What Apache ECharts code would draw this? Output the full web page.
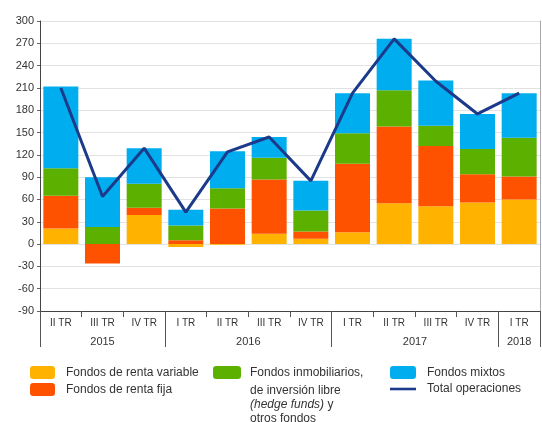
<!DOCTYPE html>
<html>
<head>
<meta charset="utf-8">
<script src="https://cdn.jsdelivr.net/npm/echarts@6/dist/echarts.min.js"></script>
<style>
html,body{margin:0;padding:0;background:#fff;}
#c{width:542px;height:422px;}
</style>
</head>
<body>
<div id="c"></div>
<script>
const categories = ['II TR','III TR','IV TR','I TR','II TR','III TR','IV TR','I TR','II TR','III TR','IV TR','I TR'];
const years = [{label:'2015', start:0, count:3},{label:'2016', start:3, count:4},{label:'2017', start:7, count:4},{label:'2018', start:11, count:1}];
const rentaVariable = [21, 0, 39, -4, -1, 14, 7, 16, 55, 51, 56, 60];
const rentaFija = [44, -26, 10, 5, 48, 73, 10, 92, 103, 81, 38, 31];
const inmobiliarios = [37, 23, 32, 20, 27, 29, 28, 41, 49, 27, 34, 52];
const mixtos = [110, 67, 48, 21, 50, 28, 40, 54, 69, 61, 47, 60];
const totalOperaciones = [210, 64, 129, 43, 124, 144, 85, 203, 276, 219, 175, 203];
const yTicks = {min:-90, max:300, interval:30};

const FONT = 'Liberation Sans, Arial, sans-serif';
const C_Y = '#FFB300', C_R = '#FF5200', C_G = '#5CB000', C_B = '#00ADEF', C_L = '#1C3A8A';

// second (year) axis: half-category positions
const n = categories.length;
const halfData = [];
for (let i = 0; i <= 2*n; i++) halfData.push('');
const yearTickIdx = new Set([2*n]);
years.forEach(y => {
  yearTickIdx.add(2*y.start);
  halfData[y.start*2 + y.count] = y.label;
});

const NAME_G = 'Fondos inmobiliarios,';
const chart = echarts.init(document.getElementById('c'));
chart.setOption({
  animation:false,
  textStyle:{fontFamily:FONT},
  grid:{left:40, right:2, top:21, bottom:111},
  xAxis:[{
    type:'category', data:categories,
    axisLine:{onZero:false, lineStyle:{color:'#444', width:1}},
    axisTick:{show:true, interval:0, length:6, lineStyle:{color:'#555'}},
    axisLabel:{color:'#333', fontSize:10, margin:7, interval:0, fontFamily:FONT}
  },{
    type:'category', data:halfData, boundaryGap:false, position:'bottom',
    axisLine:{show:false, onZero:false},
    axisTick:{show:true, length:36, interval:(i)=>yearTickIdx.has(i), lineStyle:{color:'#555'}},
    axisLabel:{color:'#333', fontSize:11, margin:25, interval:(i,v)=>v!=='', fontFamily:FONT},
    splitLine:{show:false}
  }],
  yAxis:[{
    type:'value', min:yTicks.min, max:yTicks.max, interval:yTicks.interval,
    axisLine:{show:true, lineStyle:{color:'#444'}},
    axisTick:{show:true, length:3, lineStyle:{color:'#666'}},
    axisLabel:{color:'#333', fontSize:11, margin:6, fontFamily:FONT},
    splitLine:{lineStyle:{color:'#e2e2e2'}}
  },{
    type:'value', position:'right', min:yTicks.min, max:yTicks.max, interval:yTicks.interval,
    axisLine:{show:true, lineStyle:{color:'#aaa'}},
    axisTick:{show:false}, axisLabel:{show:false}, splitLine:{show:false}
  }],
  legend:[{
    data:['Fondos de renta variable','Fondos de renta fija'],
    orient:'vertical', left:30, top:366, padding:0,
    itemWidth:25, itemHeight:13, itemGap:4,
    textStyle:{color:'#333', fontSize:12, fontFamily:FONT, padding:[0,0,0,6]}
  },{
    data:[NAME_G],
    orient:'vertical', left:213, top:366, padding:0,
    itemWidth:28, itemHeight:13,
    textStyle:{color:'#333', fontSize:12, fontFamily:FONT, padding:[0,0,0,4]}
  },{
    data:['Fondos mixtos',{name:'Total operaciones', icon:'path://M0,0 L26,0 L26,2.6 L0,2.6 Z'}],
    orient:'vertical', left:390, top:366, padding:0,
    itemWidth:26, itemHeight:13, itemGap:4, symbolKeepAspect:true,
    textStyle:{color:'#333', fontSize:12, fontFamily:FONT, padding:[0,0,0,6]}
  }],
  graphic:[{
    type:'text', left:250, top:385, silent:true,
    style:{
      text:'{a|de inversión libre}\n{i|(hedge funds)}{a| y}\n{a|otros fondos}',
      rich:{a:{fontSize:12, lineHeight:14, fill:'#333', fontFamily:FONT},
            i:{fontSize:12, lineHeight:14, fill:'#333', fontStyle:'italic', fontFamily:FONT}}
    }
  }],
  series:[
    {name:'Fondos de renta variable', type:'bar', stack:'t', data:rentaVariable, itemStyle:{color:C_Y}, barCategoryGap:'16%'},
    {name:'Fondos de renta fija', type:'bar', stack:'t', data:rentaFija, itemStyle:{color:C_R}},
    {name:NAME_G, type:'bar', stack:'t', data:inmobiliarios, itemStyle:{color:C_G}},
    {name:'Fondos mixtos', type:'bar', stack:'t', data:mixtos, itemStyle:{color:C_B}},
    {name:'Total operaciones', type:'line', data:totalOperaciones, symbol:'none', z:5,
      lineStyle:{color:C_L, width:3}, itemStyle:{color:C_L}}
  ]
});
</script>
</body>
</html>
